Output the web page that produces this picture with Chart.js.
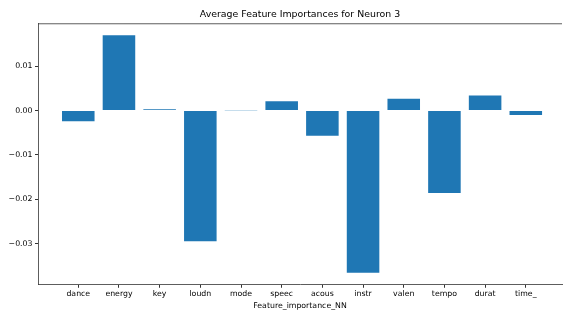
<!DOCTYPE html>
<html>
<head>
<meta charset="utf-8">
<script src="https://cdn.jsdelivr.net/npm/chart.js@4.4.1/dist/chart.umd.min.js"></script>
<style>
  html, body { margin: 0; padding: 0; background: #fff; }
  #wrap { width: 563px; height: 312px; }
</style>
</head>
<body>
<div id="wrap"><canvas id="featChart"></canvas></div>
<script>
var features = ['dance', 'energy', 'key', 'loudn', 'mode', 'speec', 'acous', 'instr', 'valen', 'tempo', 'durat', 'time_'];
var importances = [-0.0024, 0.0170, 0.0003, -0.0295, 0.00005, 0.0021, -0.0057, -0.0366, 0.0027, -0.0186, 0.0034, -0.0010];
var yTicks = [-0.03, -0.02, -0.01, 0.00, 0.01];

// top spine like matplotlib
var topSpine = {
    id: 'topSpine',
    afterDraw: function(chart) {
        var ctx = chart.ctx;
        var a = chart.chartArea;
        ctx.save();
        ctx.strokeStyle = '#333';
        ctx.lineWidth = 0.8;
        ctx.beginPath();
        ctx.moveTo(a.left, a.top + 0.5);
        ctx.lineTo(a.right, a.top + 0.5);
        ctx.stroke();
        ctx.restore();
    }
};

document.addEventListener('DOMContentLoaded', function() {
    var ctx = document.getElementById('featChart').getContext('2d');
    var points = importances.map(function(v, i) { return { x: i, y: v }; });

    new Chart(ctx, {
        type: 'bar',
        data: {
            datasets: [{
                data: points,
                backgroundColor: '#1f77b4',
                borderWidth: 0,
                categoryPercentage: 1,
                barPercentage: 0.8
            }]
        },
        plugins: [topSpine],
        options: {
            responsive: true,
            maintainAspectRatio: false,
            animation: false,
            layout: { padding: { right: 1, left: 0, top: 0, bottom: 0 } },
            plugins: {
                legend: { display: false },
                tooltip: { enabled: false },
                title: {
                    display: true,
                    text: 'Average Feature Importances for Neuron 3',
                    fullSize: false,
                    color: '#000',
                    font: { family: 'DejaVu Sans', size: 9.4, weight: 'normal' },
                    padding: { top: 9, bottom: 3 }
                }
            },
            scales: {
                x: {
                    type: 'linear',
                    min: -0.99,
                    max: 11.89, // right side of the figure is cut off
                    offset: false,
                    afterBuildTicks: function(scale) {
                        scale.ticks = features.map(function(f, i) { return { value: i }; });
                    },
                    ticks: {
                        color: '#000',
                        font: { family: 'DejaVu Sans', size: 7.8 },
                        padding: 1.5,
                        maxRotation: 0,
                        autoSkip: false,
                        callback: function(v) { return features[v]; }
                    },
                    grid: { display: true, offset: false, drawOnChartArea: false, drawTicks: true, tickLength: 3, tickColor: '#333' },
                    border: { display: true, color: '#333', width: 0.8 },
                    title: {
                        display: true,
                        text: 'Feature_importance_NN',
                        color: '#000',
                        font: { family: 'DejaVu Sans', size: 7.8 },
                        padding: { top: 1, bottom: 1.5 }
                    }
                },
                y: {
                    min: -0.0393,
                    max: 0.0197,
                    afterBuildTicks: function(scale) {
                        scale.ticks = yTicks.map(function(v) { return { value: v }; });
                    },
                    afterFit: function(scale) { scale.width = 38; },
                    ticks: {
                        color: '#000',
                        font: { family: 'DejaVu Sans', size: 7.8 },
                        padding: 2.5,
                        callback: function(v) {
                            return v < 0 ? '\u2212' + Math.abs(v).toFixed(2) : v.toFixed(2);
                        }
                    },
                    grid: { display: true, offset: false, drawOnChartArea: false, drawTicks: true, tickLength: 3, tickColor: '#333' },
                    border: { display: true, color: '#333', width: 0.8 }
                }
            }
        }
    });
});
</script>
</body>
</html>
